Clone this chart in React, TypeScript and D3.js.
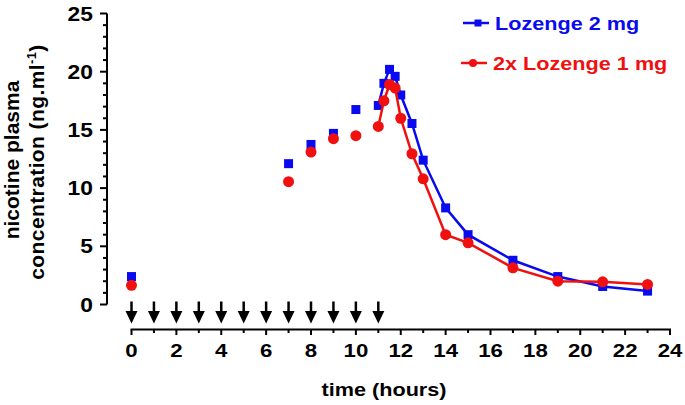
import React from "react";
import * as d3 from "d3";

const hours = [0, 7, 8, 9, 10, 11, 11.25, 11.5, 11.75, 12, 12.5, 13, 14, 15, 17, 19, 21, 23];
const lozenge2mg = [2.4, 12.1, 13.75, 14.7, 16.75, 17.1, 19.0, 20.2, 19.6, 18.0, 15.55, 12.4, 8.3, 6.0, 3.8, 2.4, 1.55, 1.15];
const lozenge2x1mg = [1.65, 10.55, 13.1, 14.25, 14.5, 15.3, 17.5, 18.9, 18.6, 16.0, 12.95, 10.8, 6.0, 5.3, 3.15, 2.0, 1.95, 1.72];
const dosingHours = [0, 1, 2, 3, 4, 5, 6, 7, 8, 9, 10, 11];
const lineStartHour = 11;
const xTickLabels = [0, 2, 4, 6, 8, 10, 12, 14, 16, 18, 20, 22, 24];
const yTickLabels = [0, 5, 10, 15, 20, 25];
const seriesNames = ["Lozenge 2 mg", "2x Lozenge 1 mg"];

const W = 685;
const H = 405;
const FONT = "'Liberation Sans', Arial, Helvetica, sans-serif";
const SX = 1.17;
const BLUE = "#0a0af0";
const RED = "#f01010";

export default function App() {
  const x = d3.scaleLinear().domain([0, 24]).range([131.5, 670]);
  const y = d3.scaleLinear().domain([0, 25]).range([304.5, 13.5]);
  const axisY = 329.5;
  const axisX = 107;

  const blue = hours.map((h, i) => ({ h, v: lozenge2mg[i] }));
  const red = hours.map((h, i) => ({ h, v: lozenge2x1mg[i] }));
  const line = d3
    .line<{ h: number; v: number }>()
    .x((d) => x(d.h))
    .y((d) => y(d.v));

  const xMinor = d3.range(0, 25, 1);
  const yMinor = d3.range(0, 26, 1);

  return (
    <svg
      width={W}
      height={H}
      style={{ position: "absolute", left: 0, top: 0, background: "#fff" }}
      fontFamily={FONT}
      fontWeight="bold"
    >
      {/* Y axis */}
      <line x1={axisX} x2={axisX} y1={y(25)} y2={y(0)} stroke="#000" strokeWidth={2} />
      {yMinor.map((v) => (
        <line
          key={"ym" + v}
          x1={axisX}
          x2={axisX - (v % 5 === 0 ? 7 : 4)}
          y1={y(v)}
          y2={y(v)}
          stroke="#000"
          strokeWidth={2}
        />
      ))}
      {yTickLabels.map((v) => (
        <text
          key={"yl" + v}
          transform={`translate(93,${y(v) + 7}) scale(${SX},1)`}
          textAnchor="end"
          fontSize={19.5}
          fill="#000"
        >
          {v}
        </text>
      ))}

      {/* X axis */}
      <line x1={x(0) - 1} x2={x(24) + 1} y1={axisY} y2={axisY} stroke="#000" strokeWidth={2} />
      {xMinor.map((h) => (
        <line
          key={"xm" + h}
          x1={x(h)}
          x2={x(h)}
          y1={axisY}
          y2={axisY + (h % 2 === 0 ? 5.5 : 3.5)}
          stroke="#000"
          strokeWidth={2}
        />
      ))}
      {xTickLabels.map((h) => (
        <text
          key={"xl" + h}
          transform={`translate(${x(h)},357) scale(${SX},1)`}
          textAnchor="middle"
          fontSize={19}
          fill="#000"
        >
          {h}
        </text>
      ))}
      <text
        transform={`translate(384,396) scale(${SX},1)`}
        textAnchor="middle"
        fontSize={18.5}
        fill="#000"
      >
        time (hours)
      </text>

      {/* Y title */}
      <text transform="translate(19,160) rotate(-90)" textAnchor="middle" fontSize={21} fill="#000">
        nicotine plasma
      </text>
      <text
        transform="translate(43.5,162) rotate(-90)"
        textAnchor="middle"
        fontSize={21}
        fill="#000"
        letterSpacing={0.4}
      >
        concentration (ng.ml
        <tspan fontSize={13} dy={-8}>-1</tspan>
        <tspan dy={8}>)</tspan>
      </text>

      {/* dosing arrows */}
      {dosingHours.map((h) => (
        <g key={"ar" + h}>
          <line x1={x(h)} x2={x(h)} y1={301.5} y2={313} stroke="#000" strokeWidth={2.5} />
          <path
            d={`M${x(h) - 6},${311} L${x(h) + 6},${311} L${x(h)},${323.5} Z`}
            fill="#000"
          />
        </g>
      ))}

      {/* Lozenge 2 mg (blue) */}
      <path
        d={line(blue.filter((d) => d.h >= lineStartHour)) || ""}
        fill="none"
        stroke={BLUE}
        strokeWidth={2.5}
      />
      {blue.map((d, i) => (
        <rect key={"b" + i} x={x(d.h) - 4.5} y={y(d.v) - 4.5} width={9} height={9} fill={BLUE} />
      ))}

      {/* 2x Lozenge 1 mg (red) */}
      <path
        d={line(red.filter((d) => d.h >= lineStartHour)) || ""}
        fill="none"
        stroke={RED}
        strokeWidth={2.5}
      />
      {red.map((d, i) => (
        <circle key={"r" + i} cx={x(d.h)} cy={y(d.v)} r={5.5} fill={RED} />
      ))}

      {/* Legend */}
      <line x1={463} x2={489} y1={23} y2={23} stroke={BLUE} strokeWidth={2.5} />
      <rect x={474.5} y={19.5} width={7} height={7} fill={BLUE} />
      <text transform={`translate(495,29.5) scale(${SX},1)`} fontSize={18.5} fill={BLUE}>
        {seriesNames[0]}
      </text>
      <line x1={461} x2={487} y1={63} y2={63} stroke={RED} strokeWidth={2.5} />
      <circle cx={473} cy={63} r={4} fill={RED} />
      <text transform={`translate(493,69.5) scale(${SX},1)`} fontSize={18.5} fill={RED}>
        {seriesNames[1]}
      </text>
    </svg>
  );
}
